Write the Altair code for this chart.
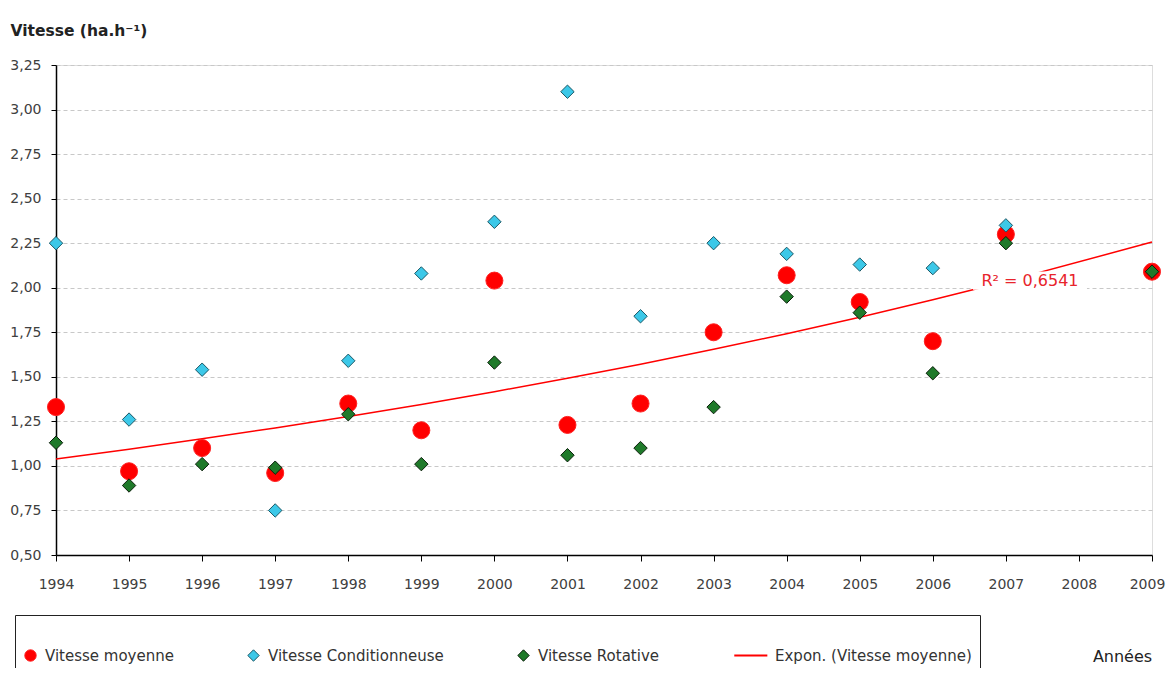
import altair as alt
import pandas as pd

years = [1994, 1995, 1996, 1997, 1998, 1999, 2000, 2001, 2002, 2003, 2004, 2005, 2006, 2007, 2009]
moyenne = [1.33, 0.97, 1.10, 0.96, 1.35, 1.20, 2.04, 1.23, 1.35, 1.75, 2.07, 1.92, 1.70, 2.30, 2.09]
conditionneuse = [2.25, 1.26, 1.54, 0.75, 1.59, 2.08, 2.37, 3.10, 1.84, 2.25, 2.19, 2.13, 2.11, 2.35, None]
rotative = [1.13, 0.89, 1.01, 0.99, 1.29, 1.01, 1.58, 1.06, 1.10, 1.33, 1.95, 1.86, 1.52, 2.25, 2.09]

series_names = ["Vitesse moyenne", "Vitesse Conditionneuse", "Vitesse Rotative", "Expon. (Vitesse moyenne)"]
fill_colors = ["#ff0000", "#3cc8e8", "#1f7a2a", "#ff0000"]
stroke_colors = ["#ff2020", "#1b5866", "#0a1f0a", "#ff0000"]
# last shape: short horizontal line used as the trend-line legend symbol
shapes = ["circle", "diamond", "diamond", "M-4.6,0H1.2"]
tick_years = list(range(1994, 2010))
r2_text = "R² = 0,6541"
r2_pos = (2007.33, 2.04)

rows = []
for name, vals in zip(series_names[:3], [moyenne, conditionneuse, rotative]):
    for y, v in zip(years, vals):
        if v is not None:
            rows.append({"annee": y, "vitesse": v, "serie": name})
df = pd.DataFrame(rows)
df_moy = pd.DataFrame({"annee": years, "vitesse": moyenne})
df_r2 = pd.DataFrame({"annee": [r2_pos[0]], "vitesse": [r2_pos[1]], "txt": [r2_text]})

FONT = "DejaVu Sans"

xscale = alt.Scale(domain=[1994, 2009], nice=False, zero=False)
yscale = alt.Scale(domain=[0.5, 3.25], nice=False, zero=False)

x_axis_kw = dict(
    values=tick_years, format="d", grid=False, title="Années",
    titleX=1066, titleY=101, titleAlign="center", titleBaseline="middle",
    titleFontSize=16, titleFontWeight="normal", titleColor="#222", titleFont=FONT,
    labelFont=FONT, labelFontSize=14, labelColor="#404040", labelPadding=16,
    tickSize=6, tickColor="#000", domainColor="#000", domainWidth=1.5,
    labelFlush=False, labelOverlap=False,
)
try:
    x_axis = alt.Axis(**x_axis_kw, labelOffset={"condition": {"test": "datum.value === 2009", "value": -5}, "value": 0})
    alt.Chart(df).mark_point().encode(x=alt.X("annee:Q", axis=x_axis)).to_dict()
except Exception:
    x_axis = alt.Axis(**x_axis_kw)

y_axis = alt.Axis(
    values=[0.5 + 0.25 * i for i in range(12)],
    labelExpr="replace(format(datum.value, '.2f'), '.', ',')",
    title="Vitesse (ha.h⁻¹)", titleAngle=0, titleX=-46, titleY=-30,
    titleAlign="left", titleBaseline="alphabetic", titleFontSize=15.5,
    titleFontWeight="bold", titleColor="#222", titleFont=FONT,
    labelFont=FONT, labelFontSize=14, labelColor="#404040", labelPadding=10,
    tickSize=5, tickColor="#000", domainColor="#000", domainWidth=1.5,
    grid=True, gridColor="#c8c8c8", gridDash=[4, 3], gridWidth=1,
)

stroke_sig = ("datum.value === 'Vitesse Conditionneuse' ? '#1b5866' : "
              "datum.value === 'Vitesse Rotative' ? '#0a1f0a' : "
              "datum.value === 'Expon. (Vitesse moyenne)' ? '#ff0000' : '#ff2020'")
sw_sig = "datum.value === 'Expon. (Vitesse moyenne)' ? 2 : 1"

legend = alt.Legend(
    orient="none", legendX=-41, legendY=550, direction="horizontal",
    title="\u00a0", titleFontSize=14, titlePadding=11, titleFont=FONT,
    padding=8, strokeColor="#222", fillColor="white", gridAlign="none",
    labelFont=FONT, labelFontSize=15, labelColor="#333", columnPadding=71,
    symbolOpacity=1, labelOffset=7, labelLimit=400, symbolSize=130,
    symbolStrokeColor=alt.ExprRef(stroke_sig), symbolStrokeWidth=alt.ExprRef(sw_sig),
)

points = alt.Chart(df).mark_point(filled=True, opacity=1, strokeWidth=1).encode(
    x=alt.X("annee:Q", scale=xscale, axis=x_axis),
    y=alt.Y("vitesse:Q", scale=yscale, axis=y_axis),
    color=alt.Color("serie:N", scale=alt.Scale(domain=series_names, range=fill_colors), legend=legend),
    shape=alt.Shape("serie:N", scale=alt.Scale(domain=series_names, range=shapes), legend=legend),
    stroke=alt.Stroke("serie:N", scale=alt.Scale(domain=series_names, range=stroke_colors), legend=None),
    size=alt.condition("datum.serie === 'Vitesse moyenne'", alt.value(290), alt.value(180)),
    order=alt.Order("ordre:Q"),
).transform_calculate(
    ordre="indexof(['Vitesse moyenne','Vitesse Conditionneuse','Vitesse Rotative'], datum.serie)"
)

# Excel-style exponential trend: least squares on log(vitesse)
trend = alt.Chart(df_moy).transform_calculate(
    ly="log(datum.vitesse)",
    xly="datum.annee * log(datum.vitesse)",
    x2="datum.annee * datum.annee",
).transform_joinaggregate(
    mx="mean(annee)", my="mean(ly)", mxy="mean(xly)", mx2="mean(x2)"
).transform_calculate(
    b="(datum.mxy - datum.mx * datum.my) / (datum.mx2 - datum.mx * datum.mx)"
).transform_calculate(
    fit="exp(datum.my + datum.b * (datum.annee - datum.mx))"
).mark_line(color="#ff0000", strokeWidth=1.5).encode(
    x=alt.X("annee:Q", scale=xscale),
    y=alt.Y("fit:Q", scale=yscale),
)

# white backing behind the R² label (same anchor as the label)
backing = alt.Chart(df_r2).mark_point(
    shape="M-1,-0.16H1V0.16H-1Z", size=13000, filled=True, color="white", opacity=1,
).encode(x=alt.X("annee:Q", scale=xscale), y=alt.Y("vitesse:Q", scale=yscale))

r2 = alt.Chart(df_r2).mark_text(
    font=FONT, fontSize=16, color="#e8242c", align="center", baseline="middle",
).encode(x=alt.X("annee:Q", scale=xscale), y=alt.Y("vitesse:Q", scale=yscale), text="txt:N")

chart = alt.layer(trend, backing, r2, points).properties(
    width=1096, height=490,
    autosize=alt.AutoSizeParams(type="none"),
    padding={"left": 48, "top": 57, "right": 14, "bottom": 113},
).configure_view(stroke=None).configure(background="white")

chart.save("out.html", embed_options={"renderer": "svg", "actions": False})
